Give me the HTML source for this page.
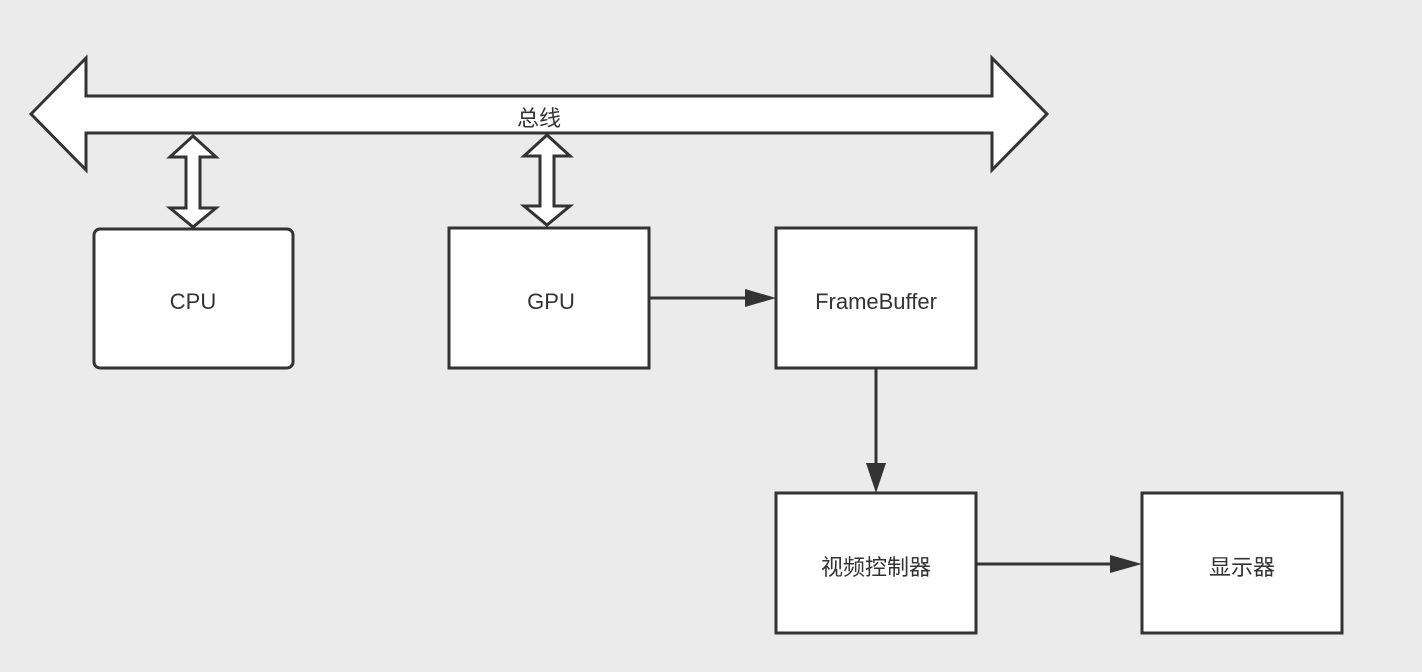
<!DOCTYPE html>
<html><head><meta charset="utf-8"><style>
html,body{margin:0;padding:0;background:#ebebeb;}
svg{display:block;}
text{font-family:"Liberation Sans","Noto Sans CJK SC",sans-serif;font-size:22px;fill:#333;}
</style></head><body>
<svg width="1422" height="672" viewBox="0 0 1422 672">
<defs><marker id="a" markerWidth="10" markerHeight="10" refX="9" refY="5" orient="auto" markerUnits="userSpaceOnUse"></marker></defs>
<polygon points="31,114 86,58 86,96 992,96 992,58 1047,114 992,170 992,133 86,133 86,170" fill="#fff" stroke="#333" stroke-width="3" stroke-linejoin="miter"/>
<text x="539" y="126" text-anchor="middle" font-size="20">总线</text>
<polygon points="193,136 216,157 200,157 200,208 216,208 193,227 170,208 186,208 186,157 170,157" fill="#fff" stroke="#333" stroke-width="3"/>
<polygon points="547,135 570,156 554,156 554,206 570,206 547,225 524,206 540,206 540,156 524,156" fill="#fff" stroke="#333" stroke-width="3"/>
<rect x="94" y="229" width="199" height="139" rx="6" fill="#fff" stroke="#333" stroke-width="3"/>
<text x="193" y="309" text-anchor="middle">CPU</text>
<rect x="449" y="228" width="200" height="140" fill="#fff" stroke="#333" stroke-width="3"/>
<text x="551" y="309" text-anchor="middle">GPU</text>
<rect x="776" y="228" width="200" height="140" fill="#fff" stroke="#333" stroke-width="3"/>
<text x="876" y="309" text-anchor="middle">FrameBuffer</text>
<rect x="776" y="493" width="200" height="140" fill="#fff" stroke="#333" stroke-width="3"/>
<text x="876" y="575" text-anchor="middle">视频控制器</text>
<rect x="1142" y="493" width="200" height="140" fill="#fff" stroke="#333" stroke-width="3"/>
<text x="1242" y="575" text-anchor="middle">显示器</text>
<line x1="650" y1="298" x2="748" y2="298" stroke="#333" stroke-width="3"/>
<polygon points="745,289 776,298 745,307" fill="#333"/>
<line x1="876" y1="369" x2="876" y2="466" stroke="#333" stroke-width="3"/>
<polygon points="866,463 876,493 886,463" fill="#333"/>
<line x1="977" y1="564" x2="1112" y2="564" stroke="#333" stroke-width="3"/>
<polygon points="1110,555 1142,564 1110,573" fill="#333"/>
</svg>
</body></html>
